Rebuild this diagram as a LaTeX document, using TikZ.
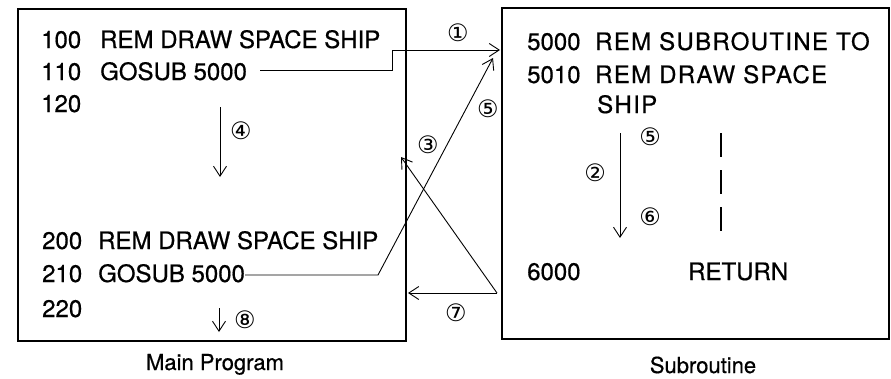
\documentclass[tikz,border=0pt]{standalone}
\usepackage{fontspec}
\setmainfont{TeX Gyre Heros}
\newfontfamily\codefont[FakeBold=0.6]{TeX Gyre Heros}
\newfontfamily\subfont[LetterSpace=5.5,FakeBold=0.6]{TeX Gyre Heros}
\newfontfamily\capfont[FakeBold=0.6]{TeX Gyre Heros}
\newfontfamily\circfont{DejaVu Sans}
\usetikzlibrary{arrows.meta}

\begin{document}
\begin{tikzpicture}[x=1pt,y=-1pt]
%----------styles---------
\tikzset{codetext/.style={anchor=base west,inner sep=0pt,font=\codefont\fontsize{24}{28}\selectfont},
subtext/.style={codetext,font=\subfont\fontsize{24}{28}\selectfont},
stepnum/.style={inner sep=0pt,font=\circfont\fontsize{24}{28}\selectfont},
flow/.style={line width=0.9pt,-{Straight Barb[length=10pt,width=13pt]}},
caption/.style={anchor=base,inner sep=0pt,font=\capfont\fontsize{22}{26}\selectfont}};
\useasboundingbox (0,0) rectangle (891,378);

%----------boxes---------
\draw [line width=1.3pt](18,9) rectangle (406,341);
\draw [line width=1.3pt](502,8) rectangle (889,339);

%----------main program---------
\node [codetext] (n100) at (41,48) {100};
\node [codetext] (t100) at (100,48) {REM DRAW SPACE SHIP};
\node [codetext] (n110) at (41,80) {110};
\node [codetext] (t110) at (100,80) {GOSUB 5000};
\node [codetext] (n120) at (41,112) {120};
\node [codetext] (n200) at (42,249) {200};
\node [codetext] (t200) at (98,249) {REM DRAW SPACE SHIP};
\node [codetext] (n210) at (42,282) {210};
\node [codetext] (t210) at (98,282) {GOSUB 5000};
\node [codetext] (n220) at (42,317) {220};
\node [caption] (mainlbl) at (215,370) {Main Program};

%----------subroutine---------
\node [codetext] (n5000) at (527,50) {5000};
\node [subtext] (t5000) at (595,50) {REM SUBROUTINE TO};
\node [codetext] (n5010) at (527,83) {5010};
\node [subtext] (t5010) at (595,83) {REM DRAW SPACE};
\node [subtext] (t5011) at (597,113) {SHIP};
\node [codetext] (n6000) at (527,280) {6000};
\node [codetext] (t6000) at (688,280) {RETURN};
\node [caption] (sublbl) at (703,373) {Subroutine};

% -----------flow----------------
\coordinate (go1) at (260,70);
\coordinate (go1b) at (392,50);
\coordinate (sub1) at (500,50);
\draw [flow](go1) -| (go1b) -- (sub1);

\coordinate (go2) at (245,275);
\coordinate (go2b) at (378,275);
\coordinate (sub2) at (493,58);
\draw [flow](go2) -- (go2b) -- (sub2);

\coordinate (ret) at (497,293);
\coordinate (back1) at (401,157);
\coordinate (back2) at (408,293);
\draw [flow](ret) -- (back1);
\draw [flow](ret) -- (back2);

\coordinate (m4a) at (220,107);
\coordinate (m4b) at (220,177);
\draw [flow](m4a) -- (m4b);
\coordinate (m8a) at (219,308);
\coordinate (m8b) at (219,332);
\draw [flow](m8a) -- (m8b);
\coordinate (s2a) at (620,133);
\coordinate (s2b) at (620,238);
\draw [flow](s2a) -- (s2b);
\coordinate (dsa) at (721,133);
\coordinate (dsb) at (721,232);
\draw [line width=1.2pt,dash pattern=on 24pt off 13pt](dsa) -- (dsb);

% -----------step numbers----------------
\node [stepnum] (c1) at (458,33) {①};
\node [stepnum] (c2) at (595,173) {②};
\node [stepnum] (c3) at (428,145) {③};
\node [stepnum] (c4) at (241,131) {④};
\node [stepnum] (c5a) at (488,109) {⑤};
\node [stepnum] (c5b) at (650,137) {⑤};
\node [stepnum] (c6) at (650,217) {⑥};
\node [stepnum] (c7) at (456,313) {⑦};
\node [stepnum] (c8) at (245,320) {⑧};
\end{tikzpicture}
\end{document}
